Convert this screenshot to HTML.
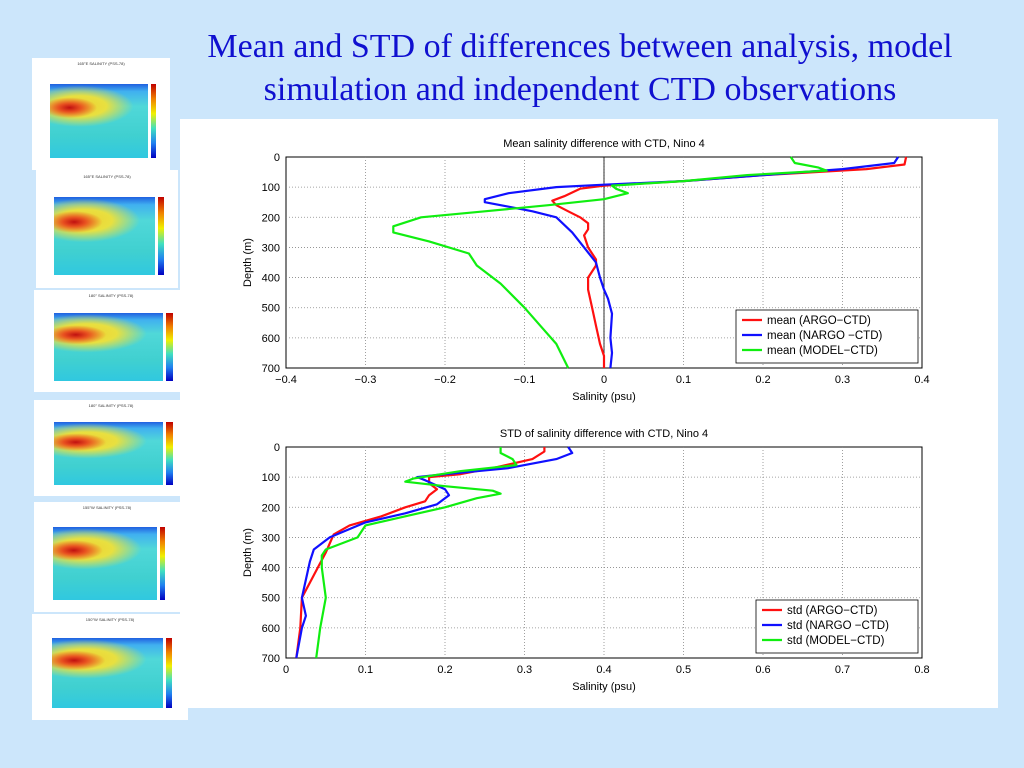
<!DOCTYPE html>
<html><head><meta charset="utf-8">
<style>
body{margin:0;width:1024px;height:768px;background:#cce6fb;position:relative;overflow:hidden;font-family:"Liberation Sans",sans-serif}
#title{position:absolute;left:130px;top:25px;width:900px;text-align:center;font-family:"Liberation Serif",serif;font-size:34px;line-height:43px;color:#1010d0}
.thumb{position:absolute;background:#fff;box-sizing:border-box}
.thumb .plot{position:absolute;left:13%;top:23%;width:71%;height:66%;
background:radial-gradient(ellipse 28% 14% at 20% 32%,#c01010 0%,#e85020 40%,rgba(240,200,40,0) 100%),
radial-gradient(ellipse 55% 28% at 30% 30%,#f0d030 0%,#e8e040 50%,rgba(160,220,120,0) 100%),
linear-gradient(#2060e0 0%,#40b0f0 10%,#50d8d8 30%,#40d0d0 70%,#30c8e0 100%)}
.thumb .cb{position:absolute;left:86%;top:23%;width:4%;height:66%;background:linear-gradient(#c00000,#f08000,#f0f000,#40e0c0,#2080f0,#0000c0)}
.thumb .tt{position:absolute;left:0;width:100%;top:3%;text-align:center;font-size:4px;color:#333}
</style></head><body>
<div id="title">Mean and STD of differences between analysis, model<br>simulation and independent CTD observations</div>

<div class="thumb" style="left:32px;top:58px;width:138px;height:112px"><div class="tt">165°E SALINITY (PSS-78)</div><div class="plot"></div><div class="cb"></div></div>
<div class="thumb" style="left:36px;top:170px;width:142px;height:118px"><div class="tt">165°E SALINITY (PSS-78)</div><div class="plot"></div><div class="cb"></div></div>
<div class="thumb" style="left:34px;top:290px;width:154px;height:102px"><div class="tt">180° SALINITY (PSS-78)</div><div class="plot"></div><div class="cb"></div></div>
<div class="thumb" style="left:34px;top:400px;width:154px;height:96px"><div class="tt">180° SALINITY (PSS-78)</div><div class="plot"></div><div class="cb"></div></div>
<div class="thumb" style="left:34px;top:502px;width:146px;height:110px"><div class="tt">155°W SALINITY (PSS-78)</div><div class="plot"></div><div class="cb"></div></div>
<div class="thumb" style="left:32px;top:614px;width:156px;height:106px"><div class="tt">150°W SALINITY (PSS-78)</div><div class="plot"></div><div class="cb"></div></div>

<svg id="chart" width="1024" height="768" style="position:absolute;left:0;top:0">
<rect x="180" y="119" width="818" height="589" fill="#fff"/>
</svg>
<script>
const meanTicks=[-0.4,-0.3,-0.2,-0.1,0,0.1,0.2,0.3,0.4];
const stdTicks=[0,0.1,0.2,0.3,0.4,0.5,0.6,0.7,0.8];
const depthTicks=[0,100,200,300,400,500,600,700];
const meanArgoD=[0,25,40,60,80,95,105,130,145,160,180,200,220,240,260,300,340,360,400,440,500,560,620,660,700];
const meanArgoV=[0.38,0.378,0.33,0.2,0.1,0.0,-0.03,-0.05,-0.065,-0.06,-0.045,-0.03,-0.02,-0.02,-0.025,-0.02,-0.01,-0.01,-0.02,-0.02,-0.015,-0.01,-0.005,0,0];
const meanNargoD=[0,20,40,60,80,92,100,120,140,150,165,180,200,250,300,350,400,440,470,520,600,650,700];
const meanNargoV=[0.37,0.365,0.3,0.2,0.1,0.0,-0.06,-0.12,-0.15,-0.15,-0.12,-0.09,-0.06,-0.04,-0.025,-0.01,-0.005,0,0.005,0.01,0.008,0.01,0.008];
const meanModelD=[0,20,35,45,60,80,95,105,120,140,160,180,200,230,250,280,320,360,420,500,560,620,700];
const meanModelV=[0.235,0.24,0.27,0.28,0.18,0.1,0.01,0.015,0.03,0.0,-0.07,-0.15,-0.23,-0.265,-0.265,-0.22,-0.17,-0.16,-0.13,-0.1,-0.08,-0.06,-0.045];
const stdArgoD=[0,15,40,70,90,100,120,140,160,180,200,230,260,290,320,350,400,450,500,600,700];
const stdArgoV=[0.325,0.325,0.31,0.26,0.22,0.18,0.18,0.19,0.18,0.175,0.15,0.12,0.08,0.06,0.055,0.05,0.04,0.03,0.02,0.018,0.013];
const stdNargoD=[0,20,40,70,90,100,110,140,160,190,220,250,300,340,380,440,500,560,600,700];
const stdNargoV=[0.355,0.36,0.34,0.28,0.2,0.165,0.175,0.2,0.205,0.19,0.15,0.1,0.055,0.035,0.03,0.025,0.02,0.025,0.02,0.013];
const stdModelD=[0,20,40,60,80,105,115,130,145,155,170,200,230,260,300,340,360,400,500,600,700];
const stdModelV=[0.27,0.27,0.285,0.29,0.22,0.16,0.15,0.2,0.26,0.27,0.24,0.2,0.15,0.1,0.09,0.05,0.045,0.045,0.05,0.043,0.038];

const svg=document.getElementById('chart');
const NS='http://www.w3.org/2000/svg';
function mk(tag,attrs,parent){const e=document.createElementNS(NS,tag);for(const k in attrs)e.setAttribute(k,attrs[k]);(parent||svg).appendChild(e);return e;}
function txt(x,y,s,size,anchor,parent){const t=mk('text',{x:x,y:y,'font-size':size,'text-anchor':anchor||'middle','font-family':'Liberation Sans, sans-serif',fill:'#000'},parent);t.textContent=s;return t;}

function panel(name,top,xmin,xmax,ticks,title,series,legendLabels,zeroLine){
  const L=286,R=922,T=top,B=top+211;
  const xs=v=>L+(v-xmin)/(xmax-xmin)*(R-L);
  const ys=d=>T+d/700*(B-T);
  const g=mk('g',{});
  
  
  mk('rect',{x:L,y:T,width:R-L,height:B-T,fill:'#fff',stroke:'#000','stroke-width':1},g);
  ticks.forEach((v,i)=>{const x=xs(v);
    if(i>0&&i<ticks.length-1){const gl=mk('line',{x1:x,x2:x,y1:T,y2:B,stroke:'#888','stroke-dasharray':'1,2','stroke-width':0.8},g);}
    const t=txt(x,B+15,String(v).replace('-','\u2212'),11,'middle',g);});
  depthTicks.forEach((d,i)=>{const y=ys(d);
    if(i>0&&i<depthTicks.length-1){const gl=mk('line',{x1:L,x2:R,y1:y,y2:y,stroke:'#888','stroke-dasharray':'1,2','stroke-width':0.8},g);}
    const t=txt(L-6,y+4,String(d),11,'end',g);});
  if(zeroLine){mk('line',{x1:xs(0),x2:xs(0),y1:T,y2:B,stroke:'#000','stroke-width':0.8},g);}
  const tt=txt((L+R)/2,T-10,title,11,'middle',g);
  const xl=txt((L+R)/2,B+32,'Salinity (psu)',11,'middle',g);
  const yl=txt(0,0,'Depth (m)',11,'middle',g);yl.setAttribute('transform','translate(251,'+((T+B)/2)+') rotate(-90)');
  const colors=['#ff1010','#1010ff','#10ee10'];
  const names=['argo','nargo','model'];
  series.forEach((s,i)=>{
    const pts=s[0].map((d,j)=>xs(s[1][j]).toFixed(1)+','+ys(d).toFixed(1)).join(' ');
    const pl=mk('polyline',{points:pts,fill:'none',stroke:colors[i],'stroke-width':2.2,'stroke-linejoin':'round'},g);
    
    
  });
  const lw=legendLabels[0].startsWith('mean')?182:162;
  const lx=R-4-lw, ly=B-58;
  const lg=mk('g',{},g);
  
  
  mk('rect',{x:lx,y:ly,width:lw,height:53,fill:'#fff',stroke:'#000','stroke-width':0.8},lg);
  legendLabels.forEach((lab,i)=>{const yy=ly+10+i*15;
    mk('line',{x1:lx+6,x2:lx+26,y1:yy,y2:yy,stroke:colors[i],'stroke-width':2.2},lg);
    const t=txt(lx+31,yy+4,lab,11.5,'start',lg);});
}
panel('mean-chart',157,-0.4,0.4,meanTicks,'Mean salinity difference with CTD, Nino 4',
  [[meanArgoD,meanArgoV],[meanNargoD,meanNargoV],[meanModelD,meanModelV]],
  ['mean (ARGO\u2212CTD)','mean (NARGO \u2212CTD)','mean (MODEL\u2212CTD)'],true);
panel('std-chart',447,0,0.8,stdTicks,'STD of salinity difference with CTD, Nino 4',
  [[stdArgoD,stdArgoV],[stdNargoD,stdNargoV],[stdModelD,stdModelV]],
  ['std (ARGO\u2212CTD)','std (NARGO \u2212CTD)','std (MODEL\u2212CTD)'],false);
</script>
</body></html>
